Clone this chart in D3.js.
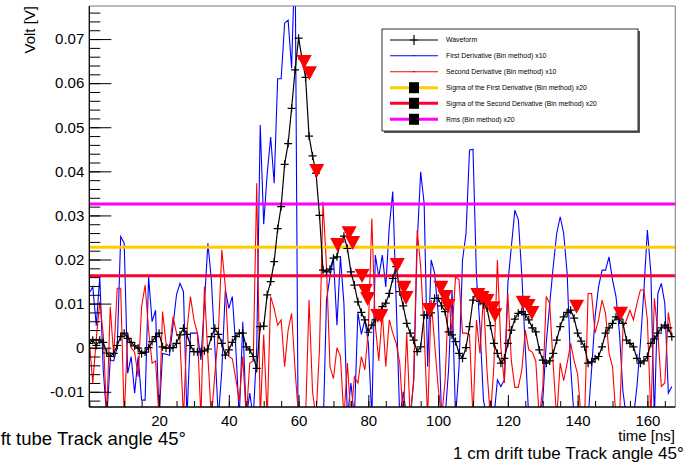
<!DOCTYPE html>
<html><head><meta charset="utf-8">
<script src="https://cdn.jsdelivr.net/npm/d3@7"></script>
<style>body{margin:0;background:#fff}svg{display:block}text{font-family:"Liberation Sans",Arial,Helvetica,sans-serif}</style>
</head><body>
<script>
// ---- data ----
const waveform = [0.001,0.0017,0.0005,0.0017,0.0012,-0.0012,-0.002,-0.0013,0.0005,0.0025,
0.0033,0.0021,0.0012,0.0004,-0.0001,-0.0013,-0.001,0.0,0.0014,0.0025,
0.0033,0.0002,-0.0001,-0.0001,0.0,0.001,0.0029,0.0044,0.003,0.0005,
-0.0009,-0.0009,-0.0009,-0.0007,-0.0003,0.0025,0.0044,0.003,0.001,-0.0017,
-0.0005,0.0012,0.0025,0.0033,0.0033,0.0002,-0.0005,-0.002,-0.0047,0.0048,
0.0049,0.012,0.015,0.0195,0.027,0.032,0.0416,0.0463,0.0543,0.063,
0.0702,0.0655,0.0613,0.048,0.0435,0.0396,0.030,0.0176,0.0172,0.0178,
0.0203,0.0206,0.024,0.0253,0.0225,0.0172,0.0142,0.0104,0.008,0.0063,
0.0035,0.0051,0.0063,0.0079,0.0093,0.0101,0.0123,0.0157,0.0184,0.0127,
0.0095,0.0055,0.0033,0.0017,-0.0009,0.0002,0.0074,0.0074,0.0079,0.0112,
0.0112,0.0095,0.0082,0.0036,0.0029,0.0014,-0.0013,-0.0024,0.0,0.0048,
0.0108,0.0127,0.0105,0.01,0.009,0.005,0.001,-0.0013,-0.0035,-0.0024,
0.001,0.004,0.0065,0.0078,0.0082,0.0075,0.0063,0.0045,0.0036,-0.0005,
-0.0028,-0.0035,-0.003,-0.0013,0.0017,0.0048,0.007,0.008,0.0085,0.0067,
0.0033,0.0015,0.0002,-0.0035,-0.0032,-0.0025,-0.002,0.0002,0.0033,0.0045,
0.0055,0.007,0.0065,0.0055,0.0017,0.001,0.0002,-0.0024,-0.0035,-0.003,
-0.002,0.001,0.002,0.0033,0.0045,0.0051,0.0045,0.0025];

const firstDeriv = [0.0124,0.0138,0.005,0.0161,-0.005,-0.016,-0.0028,-0.003,0.0,0.0252,
0.0237,-0.0058,-0.002,-0.0103,-0.002,-0.0119,-0.0119,0.0161,0.0059,0.0085,
-0.016,-0.0013,-0.0015,-0.0017,0.005,0.012,0.0146,0.0127,-0.016,0.0033,
0.0033,0.0033,-0.0028,0.01,0.0237,0.0154,0.0,-0.016,-0.005,0.0131,
0.0089,0.0116,0.0,-0.016,0.0059,-0.016,-0.0103,-0.016,0.0,0.0505,
0.028,0.0395,0.0478,0.0373,0.061,0.061,0.0736,0.0743,0.0634,0.09,
-0.035,-0.03,-0.04,-0.035,-0.03,-0.025,-0.02,-0.02,0.0108,0.0161,
0.0203,0.0051,0.0206,0.01,-0.016,-0.008,-0.016,0.008,0.003,0.0063,
0.001,-0.016,0.021,0.0161,0.021,0.0138,0.0274,0.0354,0.01,-0.016,
-0.01,-0.016,-0.016,-0.0075,0.0237,0.0399,0.0327,-0.0043,0.0199,0.0169,
0.008,-0.016,-0.016,-0.005,0.0131,-0.016,-0.0043,0.0199,0.0259,0.0448,
0.045,0.0161,0.0048,-0.0119,-0.016,-0.012,-0.016,-0.0073,-0.0088,-0.0073,
0.0146,0.0229,0.0312,0.029,0.0165,-0.0003,-0.016,-0.016,-0.016,-0.016,
-0.012,0.001,0.01,0.0184,0.0259,0.0297,0.0259,0.0169,-0.0043,-0.016,
-0.016,-0.016,-0.016,-0.016,-0.005,0.007,0.0138,0.0176,0.0176,0.0206,
0.0154,0.0116,0.0033,-0.01,-0.016,-0.016,-0.016,-0.0088,0.001,0.0131,
0.0267,0.0169,-0.016,0.0123,0.0146,0.01,-0.0103,-0.0088];

const secondDeriv = [0.0017,-0.0081,0.002,0.0104,0.003,-0.016,0.0093,-0.002,0.0135,0.0135,
-0.016,0.0033,0.0,-0.001,-0.0066,0.0093,0.0142,0.004,-0.0035,-0.003,
-0.016,0.0082,0.001,0.0,0.007,0.0033,0.0017,-0.016,0.004,0.0116,
0.0063,0.0033,-0.016,0.0138,-0.002,-0.016,-0.006,0.0033,0.0222,0.0138,
-0.002,-0.0025,-0.007,-0.012,-0.002,-0.016,-0.0035,-0.003,0.0373,-0.016,
0.003,-0.016,0.0116,0.0089,0.0051,0.0063,-0.0043,0.004,0.0078,-0.005,
-0.016,-0.03,-0.016,0.0108,-0.01,-0.016,0.0,0.0331,0.0184,-0.0043,
-0.007,0.0,-0.002,-0.016,-0.0035,-0.016,-0.0066,-0.008,-0.002,-0.005,
0.004,0.0293,0.005,-0.003,0.008,-0.0043,0.0063,0.0033,0.001,-0.0035,
-0.016,0.0033,-0.016,-0.0074,0.0267,0.0184,0.0033,-0.016,0.0108,0.001,
-0.0088,-0.016,-0.0075,0.0116,0.0033,0.0161,0.0154,0.0033,0.0033,0.003,
-0.016,0.0063,-0.0013,0.0118,-0.005,-0.016,-0.004,0.0199,0.0,-0.008,
0.0123,-0.003,-0.009,-0.009,-0.005,0.004,-0.0005,-0.001,-0.003,-0.016,
-0.009,0.0116,0.01,-0.004,-0.016,-0.0035,-0.0075,-0.0035,0.001,-0.003,
-0.006,-0.016,-0.016,0.0123,0.0123,0.0033,0.0063,0.0108,0.0078,-0.0013,
-0.0043,-0.016,-0.016,0.0045,0.0063,0.0085,0.0063,0.01,0.0131,0.0131,
0.0063,-0.016,0.0112,0.0033,-0.0088,-0.008,0.008,0.0025];

const peakTimes  = [61.6,63.1,65.2,71.2,74.5,75.5,78.2,79.1,79.8,82.7,83.6,88.3,90.2,90.8,97.5,100.8,102.0,102.8,111.4,112.6,114.0,115.7,116.3,124.4,125.8,126.9,139.7,152.3];
const peakValues = [0.065,0.0625,0.0403,0.0235,0.0262,0.024,0.0165,0.0131,0.0113,0.0074,0.0074,0.019,0.0138,0.0115,0.0088,0.0138,0.0117,0.0097,0.0122,0.0115,0.0108,0.0092,0.0076,0.0104,0.0097,0.0081,0.0095,0.0079];

const sigmaFirst = 0.0228;
const sigmaSecond = 0.0163;
const rmsValue = 0.0326;

const yTickValues = [-0.01,0,0.01,0.02,0.03,0.04,0.05,0.06,0.07];
const xTickValues = [20,40,60,80,100,120,140,160];

const legendLabels = ["Waveform","First Derivative (Bin method) x10","Second Derivative (Bin method) x10",
  "Sigma of the First Derivative (Bin method) x20","Sigma of the Second Derivative (Bin method) x20","Rms (Bin method) x20"];
const colors = {wave:"#000000", first:"#0000ff", second:"#ff0000", sigFirst:"#ffcc00", sigSecond:"#ff0033", rms:"#ff00ff"};

// ---- chart ----
const W=686,H=462;
const L=89.3,R=675.3,T=6,B=407;
const x=d3.scaleLinear().domain([0,168]).range([L,R]);
const y=d3.scaleLinear().domain([-0.01345,0.0775]).range([B,T]);
const svg=d3.select("body").append("svg").attr("width",W).attr("height",H);
svg.append("rect").attr("width",W).attr("height",H).attr("fill","#fff");
svg.append("clipPath").attr("id","clip").append("rect").attr("x",L).attr("y",T).attr("width",R-L).attr("height",B-T);
const plot=svg.append("g").attr("clip-path","url(#clip)");
const times=d3.range(waveform.length);

const line=d3.line().x((d,i)=>x(times[i])).y(d=>y(d));
plot.append("path").datum(firstDeriv).attr("d",line).attr("fill","none").attr("stroke",colors.first).attr("stroke-width",1.1);
plot.append("path").datum(secondDeriv).attr("d",line).attr("fill","none").attr("stroke",colors.second).attr("stroke-width",1.1);

[[rmsValue,colors.rms],[sigmaFirst,colors.sigFirst],[sigmaSecond,colors.sigSecond]].forEach(([v,c])=>{
  plot.append("line").attr("x1",L).attr("x2",R).attr("y1",y(v)).attr("y2",y(v)).attr("stroke",c).attr("stroke-width",3);
});

plot.append("path").datum(waveform).attr("d",line).attr("fill","none").attr("stroke","#000").attr("stroke-width",1.2);
plot.append("g").selectAll("path").data(waveform).join("path")
  .attr("d",(d,i)=>{const cx=x(times[i]),cy=y(d);return `M${cx-4},${cy}h8M${cx},${cy-4}v8`;})
  .attr("stroke","#000").attr("stroke-width",1.2).attr("fill","none");

plot.append("g").selectAll("path").data(peakTimes).join("path")
  .attr("d",(t,i)=>{const cx=x(t),cy=y(peakValues[i]);return `M${cx-7.5},${cy-6}L${cx+7.5},${cy-6}L${cx},${cy+8}Z`;})
  .attr("fill","#ff0000");

// frame
svg.append("line").attr("x1",L).attr("x2",R).attr("y1",T).attr("y2",T).attr("stroke","#777").attr("stroke-width",1);
svg.append("line").attr("x1",R).attr("x2",R).attr("y1",T).attr("y2",B).attr("stroke","#777").attr("stroke-width",1);

// y axis
const yMinor=d3.range(-12,77,2).map(v=>v/1000);
const ya=svg.append("g").attr("transform",`translate(${L},0)`);
ya.call(d3.axisLeft(y).tickValues(yMinor).tickSize(-11).tickFormat(""));
ya.call(g=>g.select(".domain").remove());
const yb=svg.append("g").attr("transform",`translate(${L},0)`);
yb.call(d3.axisLeft(y).tickValues(yTickValues).tickSize(-22).tickPadding(5)
  .tickFormat(v=>Math.abs(v)<1e-9?"0":(+v.toFixed(2)).toString()));
yb.select(".domain").remove();
yb.selectAll("text").attr("font-size",15).attr("font-family","Liberation Sans, Arial, sans-serif").attr("fill","#000");
svg.append("line").attr("x1",L).attr("x2",L).attr("y1",T).attr("y2",B).attr("stroke","#000").attr("stroke-width",1.3);

// x axis
const xMinor=d3.range(0,168,5);
const xa=svg.append("g").attr("transform",`translate(0,${B})`);
xa.call(d3.axisBottom(x).tickValues(xMinor).tickSize(-6).tickFormat(""));
xa.select(".domain").remove();
const xb=svg.append("g").attr("transform",`translate(0,${B})`);
xb.call(d3.axisBottom(x).tickValues(xTickValues).tickSize(-12).tickPadding(8).tickFormat(d3.format("d")));
xb.select(".domain").remove();
xb.selectAll("text").attr("font-size",15).attr("font-family","Liberation Sans, Arial, sans-serif").attr("fill","#000");
svg.append("line").attr("x1",L).attr("x2",R).attr("y1",B).attr("y2",B).attr("stroke","#000").attr("stroke-width",1.3);

// axis titles
svg.append("text").attr("transform","translate(35,6) rotate(-90)").attr("text-anchor","end")
  .attr("font-size",15).text("Volt [V]");
svg.append("text").attr("x",675).attr("y",441).attr("text-anchor","end").attr("font-size",15).text("time [ns]");
svg.append("text").attr("x",186).attr("y",445).attr("text-anchor","end").attr("font-size",18.5).text("1 cm drift tube Track angle 45°");
svg.append("text").attr("x",453).attr("y",459).attr("font-size",17).text("1 cm drift tube Track angle 45°");

// legend
const lg=svg.append("g");
lg.append("rect").attr("x",384).attr("y",31).attr("width",256).attr("height",102).attr("fill","#555");
lg.append("rect").attr("x",382).attr("y",29).attr("width",256).attr("height",102).attr("fill","#fff").attr("stroke","#333").attr("stroke-width",1);
const rowY=[40,55.7,71.7,87.7,103.3,119.3];
const legendStyles=[
  {c:colors.wave,w:1.2,m:"plus"},{c:colors.first,w:1.1,m:"dot"},{c:colors.second,w:1.1,m:"dot"},
  {c:colors.sigFirst,w:3,m:"sq"},{c:colors.sigSecond,w:3,m:"sq"},{c:colors.rms,w:3,m:"sq"}];
legendLabels.forEach((lab,i)=>{
  const yy=rowY[i],s=legendStyles[i];
  lg.append("line").attr("x1",390).attr("x2",438).attr("y1",yy).attr("y2",yy).attr("stroke",s.c).attr("stroke-width",s.w);
  if(s.m==="plus") lg.append("path").attr("d",`M410,${yy}h8M414,${yy-5}v10`).attr("stroke","#000").attr("stroke-width",1.2);
  if(s.m==="dot") lg.append("rect").attr("x",413.5).attr("y",yy-0.5).attr("width",1).attr("height",1).attr("fill","#000");
  if(s.m==="sq") lg.append("rect").attr("x",409).attr("y",yy-5.5).attr("width",10).attr("height",11).attr("fill","#000");
  lg.append("text").attr("x",446).attr("y",yy+2.4).attr("font-size",6.9).text(lab);
});
</script>
</body></html>
